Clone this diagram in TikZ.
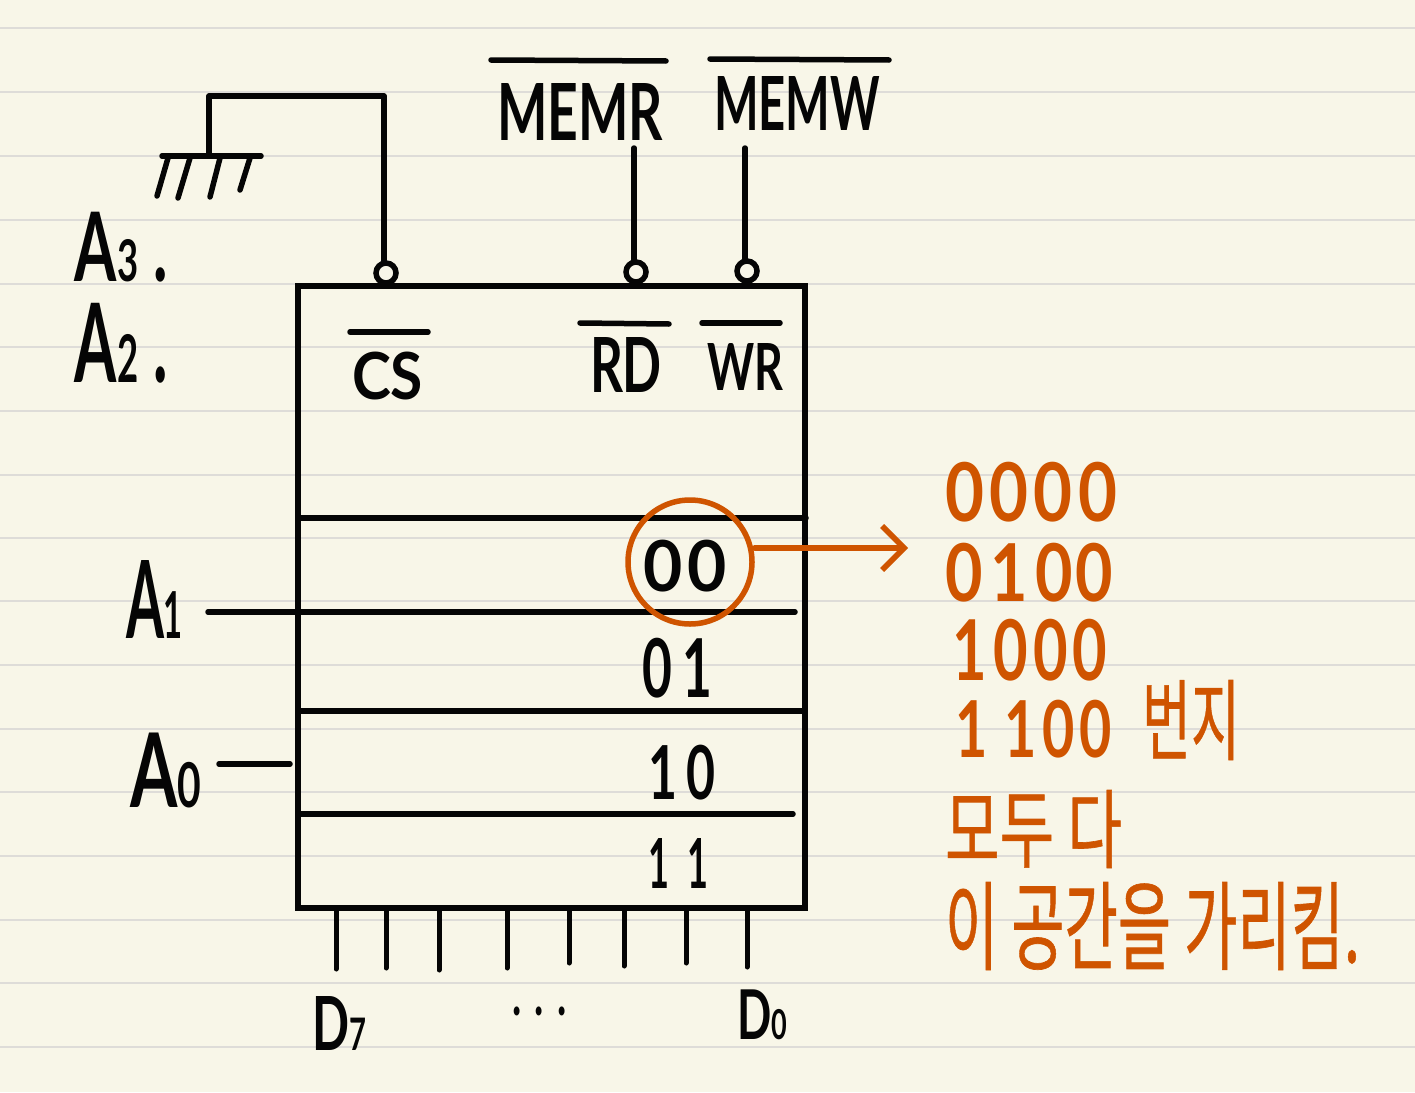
\documentclass[tikz,border=0pt]{standalone}
\usepackage{graphicx}
\usepackage{fontspec}
\setmainfont{Lato}
\newfontfamily\krfont{Noto Sans CJK KR}[BoldFont={Noto Sans CJK KR},BoldFeatures={FakeBold=0.7}]
\usetikzlibrary{arrows.meta}
\definecolor{paper}{HTML}{F8F6E8}
\definecolor{rule}{HTML}{DEDCD8}
\definecolor{ink}{HTML}{050505}
\definecolor{rust}{HTML}{CF5400}
\newcommand{\fitbox}[3]{\resizebox*{#1pt}{#2pt}{\fontsize{60}{60}\selectfont\bfseries #3}}
\newcommand{\smallsub}[1]{{\fontsize{36}{36}\selectfont #1}}
\newcommand{\gap}[1]{\hspace{#1em}}
% \lbl[style]{name}{x0}{y0}{x1}{y1}{text}
\newcommand{\lbl}[7][inktext]{%
  \pgfmathsetmacro{\lblw}{#5-#3}\pgfmathsetmacro{\lblh}{#6-#4}%
  \pgfmathsetmacro{\lblx}{(#3+#5)/2}\pgfmathsetmacro{\lbly}{(#4+#6)/2}%
  \node[#1] (#2) at (\lblx,\lbly) {\fitbox{\lblw}{\lblh}{#7}};}
\tikzset{
  inktext/.style={inner sep=0pt,outer sep=0pt,text=ink},
  rusttext/.style={inner sep=0pt,outer sep=0pt,text=rust},
  ruleline/.style={draw=rule,line width=1.6pt},
  wire/.style={draw=ink,line width=5.5pt,line cap=round,line join=round},
  thinwire/.style={draw=ink,line width=5pt,line cap=round},
  bubble/.style={circle,draw=ink,line width=5.5pt,minimum size=20pt,inner sep=0pt,fill=paper},
  chipbox/.style={draw=ink,line width=6.5pt,rectangle,inner sep=0pt,minimum width=507pt,minimum height=622pt},
  bar/.style={draw=ink,line width=5.5pt,line cap=round},
  rustline/.style={draw=rust,line width=5.5pt,line cap=round,line join=round},
}
\begin{document}
\begin{tikzpicture}[x=1pt,y=-1pt]
\useasboundingbox (0,0) rectangle (1415,1092);
\fill[paper] (0,0) rectangle (1415,1092);
\foreach \yy in {28,92,156,220,284,347,411,475,538,601,665,729,792,856,920,983,1047}
  \draw[ruleline] (0,\yy) -- (1415,\yy);

% chip
\node[chipbox] (mem) at (551.5,597) {};

% ground
\coordinate (gl) at (162,156); \coordinate (gr) at (261,156); \coordinate (gt) at (209,156);
\draw[wire] (gl) -- (gr);
\foreach \i/\xa/\xb/\yb in {1/168/157/196,2/190/178/198,3/220/210/197,4/250/240/190}{
  \coordinate (ha\i) at (\xa,158); \coordinate (hb\i) at (\xb,\yb);
  \draw[wire] (ha\i) -- (hb\i);
}

% bubbles
\node[bubble] (bcs) at (386,273) {};
\node[bubble] (brd) at (636,272) {};
\node[bubble] (bwr) at (747,271) {};

% top wires
\coordinate (corner1) at (209,96); \coordinate (corner2) at (384,96);
\draw[wire] (gt) -- (corner1) -- (corner2) -- (corner2 |- bcs.north);
\coordinate (rdtop) at (634,148); \coordinate (wrtop) at (745,148);
\draw[wire] (rdtop) -- (rdtop |- brd.north);
\draw[wire] (wrtop) -- (wrtop |- bwr.north);

% rows
\coordinate (r1l) at (298,518); \coordinate (r1r) at (806,518);
\coordinate (r2l) at (208,612); \coordinate (r2r) at (795,612);
\coordinate (r3l) at (298,711); \coordinate (r3r) at (803,711);
\coordinate (r4l) at (298,814); \coordinate (r4r) at (793,814);
\foreach \i in {1,2,3,4} \draw[wire] (r\i l) -- (r\i r);
\coordinate (a0l) at (219,764); \coordinate (a0r) at (290,764);
\draw[wire] (a0l) -- (a0r);

% data pins
\foreach \i/\xx/\yy in {1/336/969,2/386/968,3/439/970,4/507/968,5/569/963,6/624/966,7/686/963,8/747/967}{
  \coordinate (pa\i) at (\xx,908); \coordinate (pb\i) at (\xx,\yy);
  \draw[thinwire] (pa\i) -- (pb\i);
}

% overbars
\foreach \i/\xa/\ya/\xb/\yb in {1/491/60/666/61,2/710/59/889/60,3/350/332/428/332,4/580/323/669/324,5/702/323/780/323}{
  \coordinate (ba\i) at (\xa,\ya); \coordinate (bb\i) at (\xb,\yb);
  \draw[bar] (ba\i) -- (bb\i);
}

% black labels
\lbl{memr}{497}{83}{663}{140}{MEMR}
\lbl{memw}{714}{76}{880}{130}{MEMW}
\lbl{cs}{352}{352}{423}{400}{CS}
\lbl{rd}{590}{337}{662}{392}{RD}
\lbl{wr}{707}{343}{783}{390}{WR}
\lbl{athree}{75}{212}{168}{282}{A\smallsub{3}\gap{.25}.}
\lbl{atwo}{75}{303}{168}{383}{A\smallsub{2}\gap{.25}.}
\lbl{aone}{126}{560}{183}{638}{A\smallsub{1}}
\lbl{azero}{130}{733}{201}{808}{A\smallsub{0}}
\lbl{dseven}{312}{996}{366}{1050}{D\smallsub{7}}
\lbl{dzero}{737}{990}{787}{1040}{D\smallsub{0}}
\lbl{dots}{512}{1007}{567}{1016}{.\gap{.35}.\gap{.35}.}
\lbl{bits0}{643}{540}{727}{592}{0\gap{.08}0}
\lbl{bits1}{642}{638}{712}{698}{0\gap{.2}1}
\lbl{bits2}{648}{745}{716}{800}{1\gap{.2}0}
\lbl{bits3}{648}{838}{708}{888}{1\gap{.5}1}

% orange
\node[circle,draw=rust,line width=5.5pt,minimum size=124pt,inner sep=0pt] (ring) at (690,562) {};
\coordinate (arrowend) at (908,548);
\draw[rustline,-{Straight Barb[length=22pt,width=44pt,line width=5.5pt]}] (ring.east |- arrowend) -- (arrowend);
\lbl[rusttext]{addr0}{945}{462}{1117}{522}{0\gap{.08}0\gap{.08}0\gap{.08}0}
\lbl[rusttext]{addr1}{945}{543}{1113}{602}{0\gap{.12}1\gap{.12}0\gap{.04}0}
\lbl[rusttext]{addr2}{952}{619}{1107}{681}{1\gap{.12}0\gap{.08}0\gap{.08}0}
\lbl[rusttext]{addr3}{955}{700}{1112}{758}{1\gap{.3}1\gap{.12}0\gap{.08}0}
\lbl[rusttext]{beonji}{1142}{680}{1240}{760}{\krfont\bfseries 번지}
\lbl[rusttext]{modu}{945}{790}{1122}{868}{\krfont\bfseries 모두 다}
\lbl[rusttext]{point}{945}{882}{1360}{970}{\krfont\bfseries 이 공간을 가리킴.}
\end{tikzpicture}
\end{document}
